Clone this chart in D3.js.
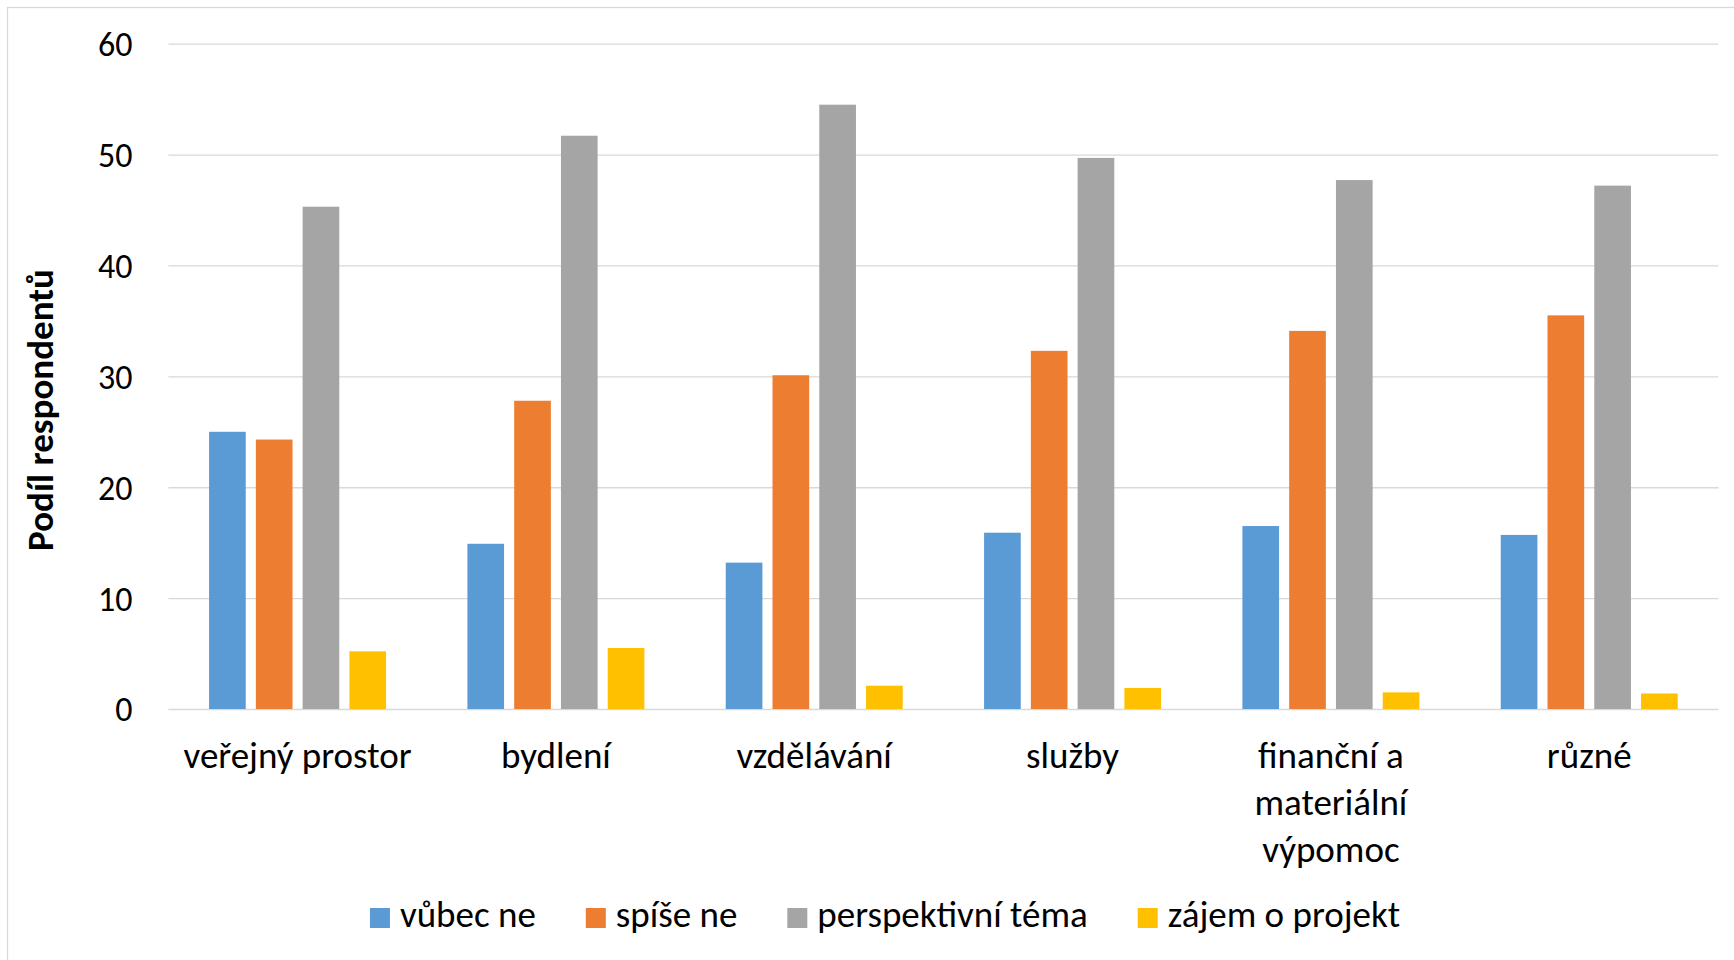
<!DOCTYPE html>
<html>
<head>
<meta charset="utf-8">
<script src="https://cdn.jsdelivr.net/npm/d3@7"></script>
<style>
  html, body { margin: 0; padding: 0; background: #fff; }
  svg text { font-family: Carlito, Calibri, Lato, sans-serif; fill: #000; }
</style>
</head>
<body>
<svg id="chart" width="1734" height="960"></svg>
<script>
const categories = ["veřejný prostor", "bydlení", "vzdělávání", "služby", "finanční a materiální výpomoc", "různé"];
const categoryLines = [["veřejný prostor"], ["bydlení"], ["vzdělávání"], ["služby"], ["finanční a", "materiální", "výpomoc"], ["různé"]];
const seriesNames = ["vůbec ne", "spíše ne", "perspektivní téma", "zájem o projekt"];
const vubecNe = [25.0, 14.9, 13.2, 15.9, 16.5, 15.7];
const spiseNe = [24.3, 27.8, 30.1, 32.3, 34.1, 35.5];
const perspektivni = [45.3, 51.7, 54.5, 49.7, 47.7, 47.2];
const zajem = [5.2, 5.5, 2.1, 1.9, 1.5, 1.4];
const yTicks = [0, 10, 20, 30, 40, 50, 60];
const colors = ["#5B9BD5", "#ED7D31", "#A5A5A5", "#FFC000"];
const axisTitle = "Podíl respondentů";

const seriesValues = [vubecNe, spiseNe, perspektivni, zajem];

const svg = d3.select("#chart");
const plot = { left: 168.4, right: 1718.4, top: 43.7, bottom: 709 };
const fontSize = 37;
const tickFontSize = 34;

// chart-area border
svg.append("rect")
  .attr("x", 7.5).attr("y", 7.5)
  .attr("width", 1760).attr("height", 1000)
  .attr("fill", "none").attr("stroke", "#d9d9d9").attr("stroke-width", 1.3);

const y = d3.scaleLinear().domain([0, 60]).range([plot.bottom, plot.top]);
const x0 = d3.scaleBand().domain(categories).range([plot.left, plot.right]).padding(0);
const groupW = 177;
const x1 = d3.scaleBand().domain(seriesNames)
  .range([(x0.bandwidth() - groupW) / 2, (x0.bandwidth() + groupW) / 2])
  .paddingInner(0.216).paddingOuter(0);

// gridlines via axis
const yAxis = d3.axisLeft(y).tickValues(yTicks).tickSize(-(plot.right - plot.left)).tickPadding(0).tickFormat(d3.format("d"));
const gy = svg.append("g").attr("transform", `translate(${plot.left},0)`).call(yAxis);
gy.select(".domain").remove();
gy.selectAll(".tick line").attr("stroke", "#d9d9d9").attr("stroke-width", 1.3);
gy.selectAll(".tick text")
  .attr("x", -36).attr("dy", "0.35em")
  .style("font-size", tickFontSize + "px").attr("fill", "#000")
  .attr("text-anchor", "end");

// bars
const groups = svg.append("g").selectAll("g")
  .data(categories)
  .join("g")
  .attr("transform", d => `translate(${x0(d)},0)`);

groups.selectAll("rect")
  .data((c, i) => seriesNames.map((s, j) => ({ s, j, v: seriesValues[j][i] })))
  .join("rect")
  .attr("x", d => x1(d.s))
  .attr("width", x1.bandwidth())
  .attr("y", d => y(d.v))
  .attr("height", d => y(0) - y(d.v))
  .attr("fill", d => colors[d.j]);

// category labels
const catG = svg.append("g");
categories.forEach((c, i) => {
  const t = catG.append("text")
    .attr("x", x0(c) + x0.bandwidth() / 2)
    .attr("y", 768)
    .attr("text-anchor", "middle")
    .style("font-size", fontSize + "px");
  categoryLines[i].forEach((line, k) => {
    t.append("tspan").attr("x", x0(c) + x0.bandwidth() / 2).attr("dy", k === 0 ? 0 : 47).text(line);
  });
});

// axis title
svg.append("text")
  .attr("transform", `translate(53,410) rotate(-90)`)
  .attr("text-anchor", "middle")
  .style("font-size", fontSize + "px")
  .style("font-weight", "bold")
  .text(axisTitle);

// legend
const leg = svg.append("g");
const items = leg.selectAll("g").data(seriesNames).join("g");
items.append("rect").attr("width", 20).attr("height", 20).attr("y", -19).attr("fill", (d, i) => colors[i]);
items.append("text").attr("x", 30).attr("y", 0).style("font-size", fontSize + "px").text(d => d);
let cx = 0;
items.each(function () {
  const g = d3.select(this);
  g.attr("transform", `translate(${cx},927)`);
  const w = g.select("text").node().getComputedTextLength();
  cx += 30 + w + 50;
});
const totalW = cx - 50;
leg.attr("transform", `translate(${885 - totalW / 2},0)`);
</script>
</body>
</html>
